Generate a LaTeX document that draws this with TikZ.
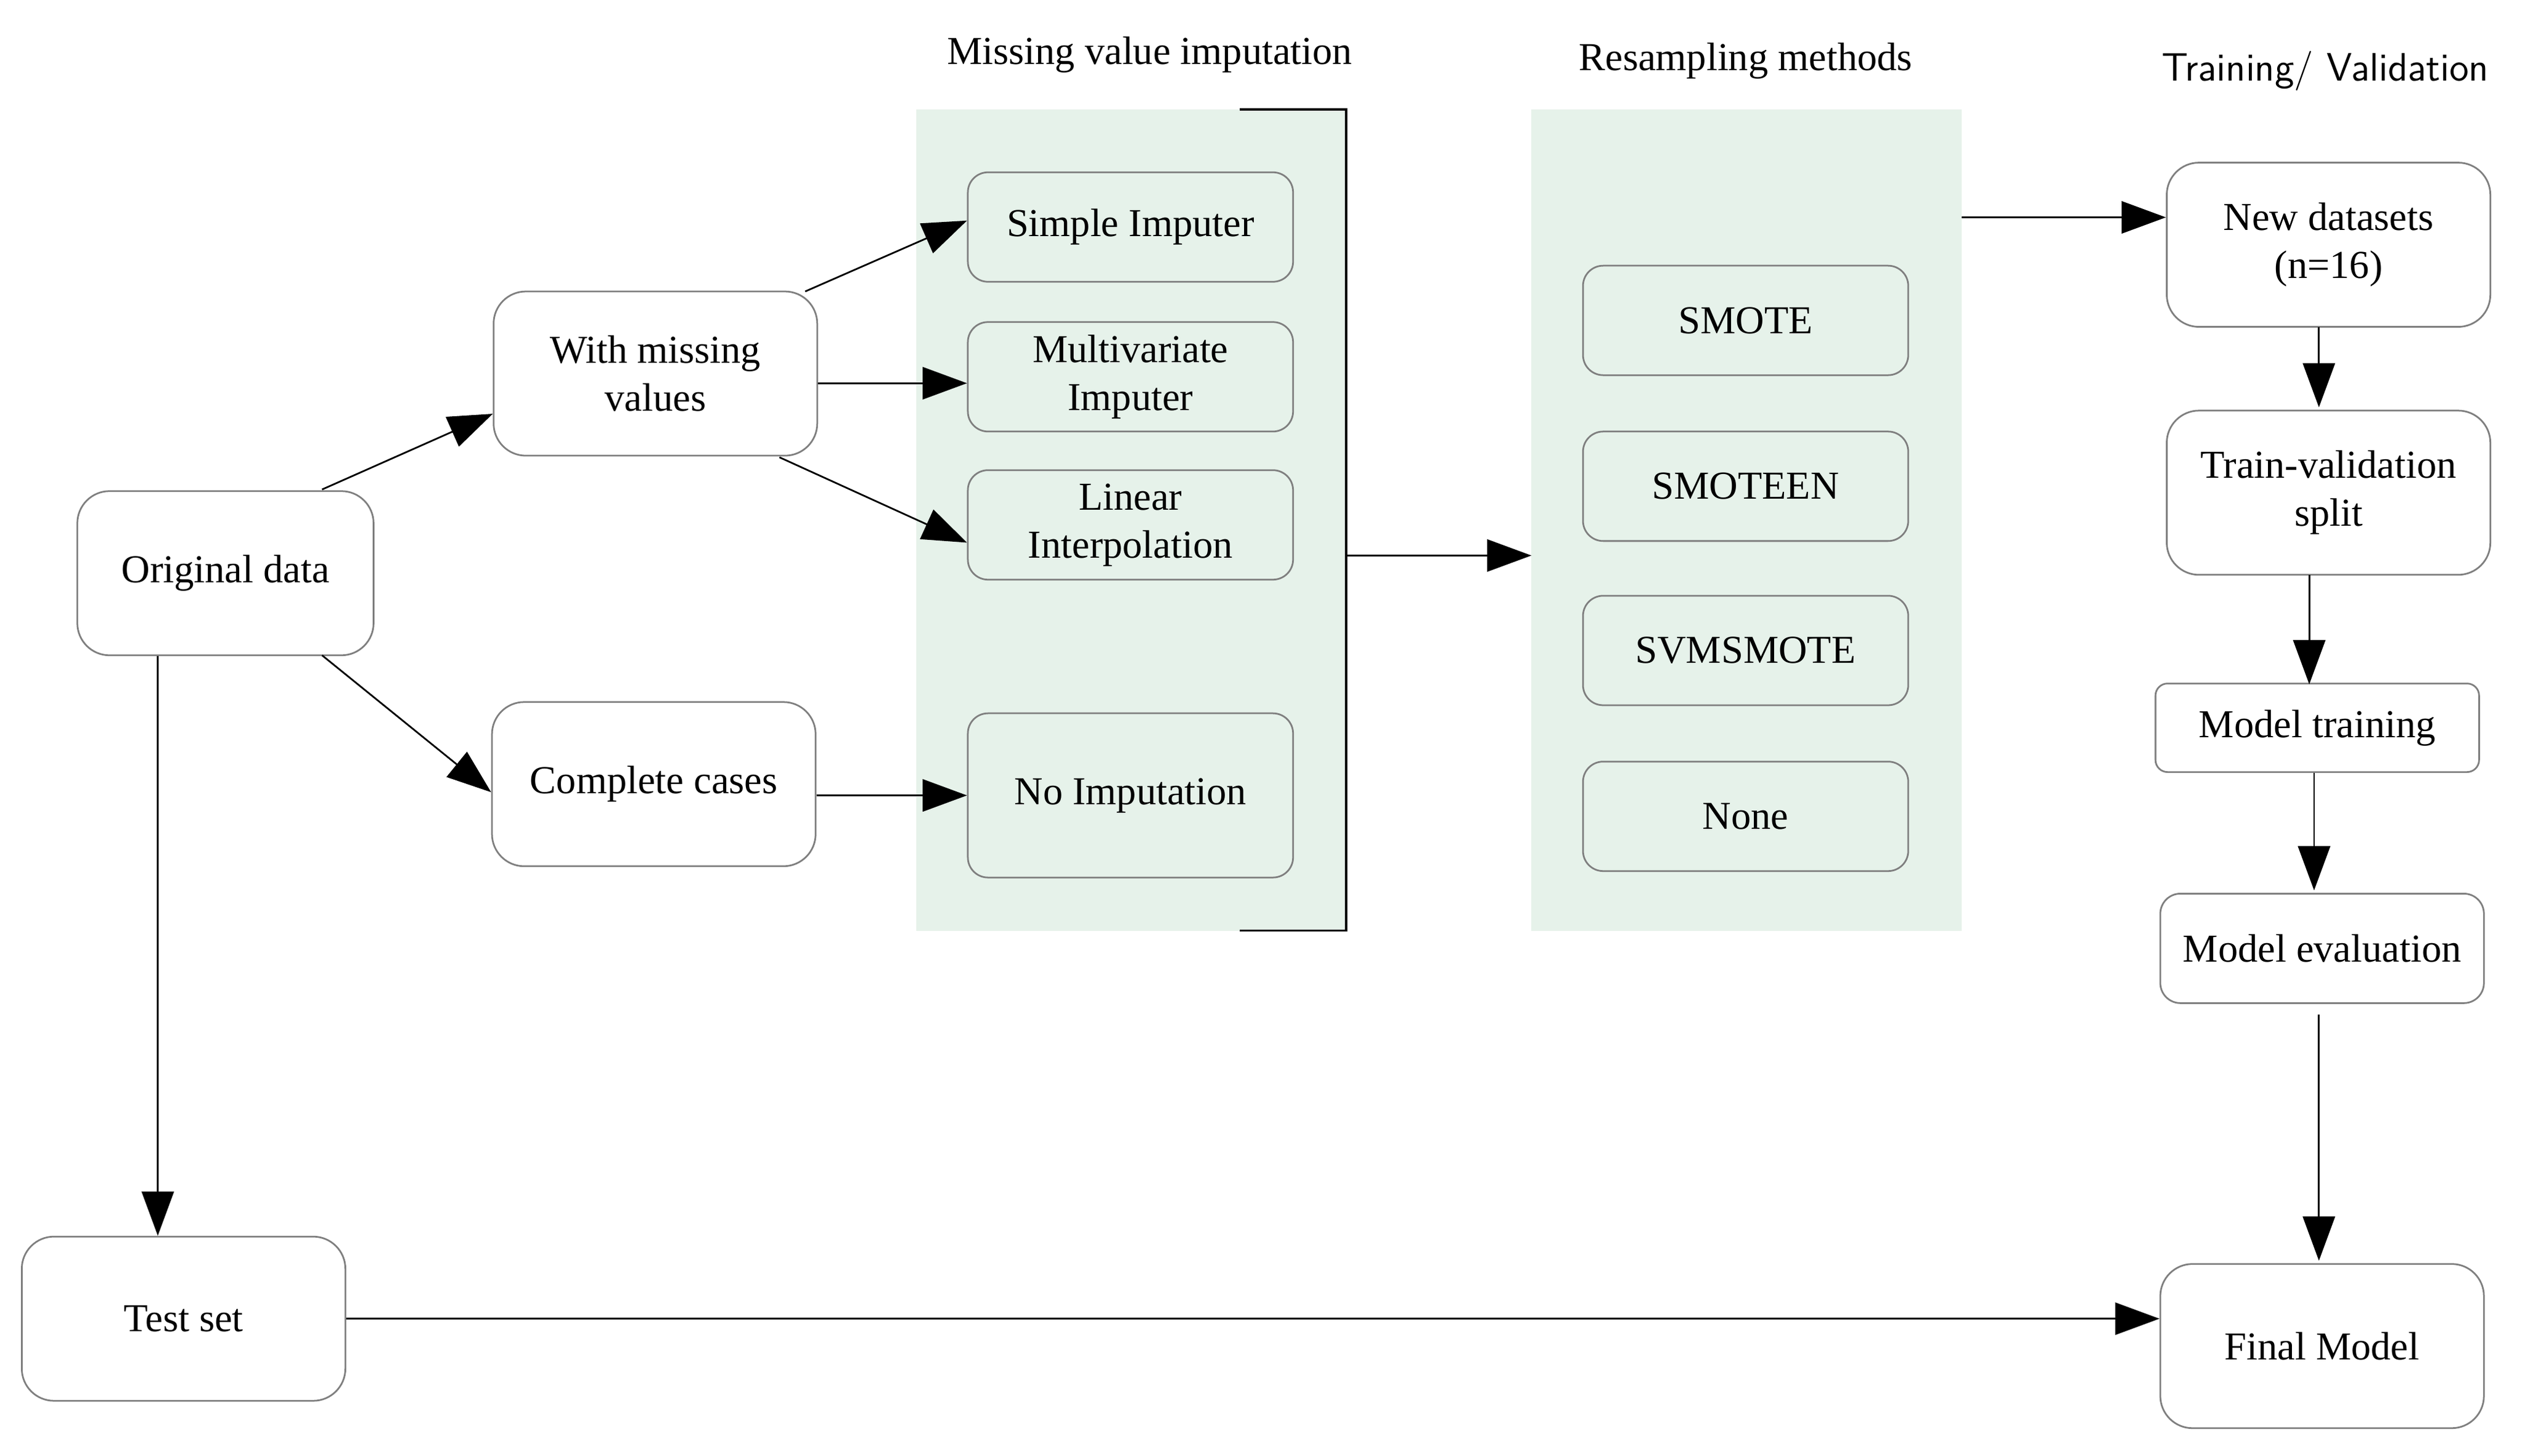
\documentclass[tikz,border=0pt]{standalone}
\usepackage{fontspec}
\setmainfont{Liberation Serif}
\usetikzlibrary{arrows.meta,calc}
\definecolor{panel}{HTML}{E6F2EA}
\definecolor{edge}{HTML}{7F7F7F}
\begin{document}
\begin{tikzpicture}[x=0.02cm,y=-0.02cm,
  box/.style={draw=edge,rounded corners=0.4cm,align=center,inner sep=0pt,font=\fontsize{14}{17}\selectfont,line width=0.6pt},
  sbox/.style={box,rounded corners=0.25cm},
  arr/.style={-{Triangle[length=0.55cm,width=0.4cm]},line width=0.6pt},
  title/.style={font=\fontsize{14}{17}\selectfont}]
\useasboundingbox (0,0) rectangle (1568,904);
\fill[panel] (569,68) rectangle (836,578);
\fill[panel] (951,68) rectangle (1218,578);
\draw[line width=0.8pt] (770,68) -- (836,68) -- (836,578) -- (770,578);
\node[title] at (714,34) {Missing value imputation};
\node[title] at (1084,38) {Resampling methods};
\node[title,font=\fontsize{14}{17}\selectfont\sffamily] at (1444,44) {Training/ Validation};
\node[box,minimum width=3.68cm,minimum height=2.04cm] (orig) at (140,356) {Original data};
\node[box,minimum width=4.02cm,minimum height=2.04cm] (miss) at (407,232) {With missing\\values};
\node[box,minimum width=4.02cm,minimum height=2.04cm] (comp) at (406,487) {Complete cases};
\node[box,minimum width=4.02cm,minimum height=2.04cm] (test) at (114,819) {Test set};
\node[sbox,minimum width=4.04cm,minimum height=1.36cm] (simp) at (702,141) {Simple Imputer};
\node[sbox,minimum width=4.04cm,minimum height=1.36cm] (mult) at (702,234) {Multivariate\\Imputer};
\node[sbox,minimum width=4.04cm,minimum height=1.36cm] (lin) at (702,326) {Linear\\Interpolation};
\node[sbox,minimum width=4.04cm,minimum height=2.04cm] (noimp) at (702,494) {No Imputation};
\node[sbox,minimum width=4.04cm,minimum height=1.36cm] (smote) at (1084,199) {SMOTE};
\node[sbox,minimum width=4.04cm,minimum height=1.36cm] (smoteen) at (1084,302) {SMOTEEN};
\node[sbox,minimum width=4.04cm,minimum height=1.36cm] (svm) at (1084,404) {SVMSMOTE};
\node[sbox,minimum width=4.04cm,minimum height=1.36cm] (none) at (1084,507) {None};
\node[box,minimum width=4.02cm,minimum height=2.04cm] (new) at (1446,152) {New datasets\\(n=16)};
\node[box,minimum width=4.02cm,minimum height=2.04cm] (split) at (1446,306) {Train-validation\\split};
\node[sbox,rounded corners=0.15cm,minimum width=4.02cm,minimum height=1.1cm] (train) at (1439,452) {Model training};
\node[sbox,minimum width=4.02cm,minimum height=1.36cm] (eval) at (1442,589) {Model evaluation};
\node[box,minimum width=4.02cm,minimum height=2.04cm] (final) at (1442,836) {Final Model};
\coordinate (brk) at (836,345);
\coordinate (p2in) at (951,345);
\coordinate (p2out) at (1218,135);
\draw[arr] (200,304) -- (miss.west|-0,257);
\draw[arr] (200,407) -- (comp.west|-0,492);
\draw[arr] (500,181) -- (simp.west|-0,137);
\draw[arr] (miss.east|-0,238) -- (mult.west|-0,238);
\draw[arr] (484,284) -- (lin.west|-0,337);
\draw[arr] (comp.east|-0,494) -- (noimp.west|-0,494);
\draw[arr] (brk) -- (p2in);
\draw[arr] (p2out) -- (new.west|-p2out);
\draw[arr] (1440,203) -- (1440,253);
\draw[arr] (1434,357) -- (1434,425);
\draw[arr] (1437,480) -- (1437,553);
\draw[arr] (1440,630) -- (1440,783);
\draw[arr] (orig.south-|98,0) -- (test.north-|98,0);
\draw[arr] (test.east|-0,819) -- (final.west|-0,819);
\end{tikzpicture}
\end{document}
